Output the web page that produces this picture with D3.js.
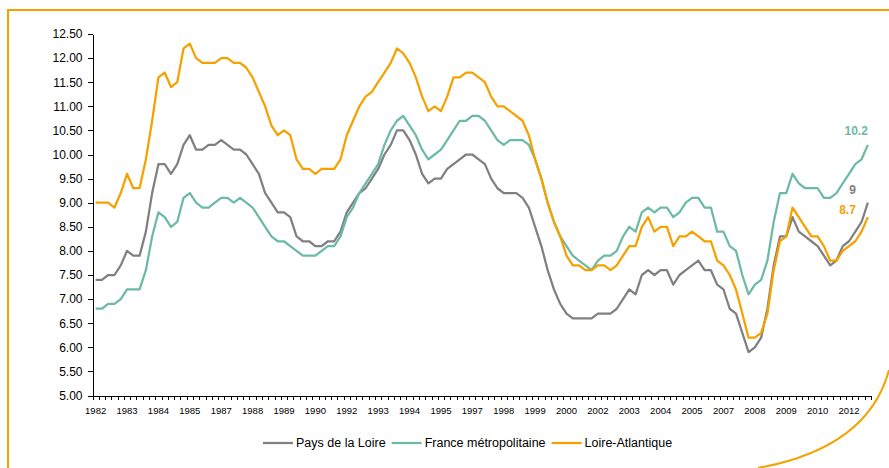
<!DOCTYPE html>
<head>
    <meta charset="utf-8">
    <title>Taux de chômage</title>
    <style>
        body { margin: 0; background: #fff; }
        text { font-family: "Liberation Sans", Arial, sans-serif; }
        .axis path, .axis line { stroke: #000; shape-rendering: crispEdges; }
        .axis text { fill: #000; }
    </style>
</head>

<body>

<svg width="889" height="468"></svg>

<script src="https://d3js.org/d3.v7.min.js"></script>

<script>

    // quarterly series, 1982 T1 -> 2012 T4 (124 points)
    var paysDeLaLoire = [
        7.4, 7.4, 7.5, 7.5, 7.7, 8.0, 7.9, 7.9, 8.4, 9.2,
        9.8, 9.8, 9.6, 9.8, 10.2, 10.4, 10.1, 10.1, 10.2, 10.2,
        10.3, 10.2, 10.1, 10.1, 10.0, 9.8, 9.6, 9.2, 9.0, 8.8,
        8.8, 8.7, 8.3, 8.2, 8.2, 8.1, 8.1, 8.2, 8.2, 8.4,
        8.8, 9.0, 9.2, 9.3, 9.5, 9.7, 10.0, 10.2, 10.5, 10.5,
        10.3, 10.0, 9.6, 9.4, 9.5, 9.5, 9.7, 9.8, 9.9, 10.0,
        10.0, 9.9, 9.8, 9.5, 9.3, 9.2, 9.2, 9.2, 9.1, 8.9,
        8.5, 8.1, 7.6, 7.2, 6.9, 6.7, 6.6, 6.6, 6.6, 6.6,
        6.7, 6.7, 6.7, 6.8, 7.0, 7.2, 7.1, 7.5, 7.6, 7.5,
        7.6, 7.6, 7.3, 7.5, 7.6, 7.7, 7.8, 7.6, 7.6, 7.3,
        7.2, 6.8, 6.7, 6.3, 5.9, 6.0, 6.2, 6.8, 7.7, 8.3,
        8.3, 8.7, 8.4, 8.3, 8.2, 8.1, 7.9, 7.7, 7.8, 8.1,
        8.2, 8.4, 8.6, 9.0
    ];

    var franceMetro = [
        6.8, 6.8, 6.9, 6.9, 7.0, 7.2, 7.2, 7.2, 7.6, 8.3,
        8.8, 8.7, 8.5, 8.6, 9.1, 9.2, 9.0, 8.9, 8.9, 9.0,
        9.1, 9.1, 9.0, 9.1, 9.0, 8.9, 8.7, 8.5, 8.3, 8.2,
        8.2, 8.1, 8.0, 7.9, 7.9, 7.9, 8.0, 8.1, 8.1, 8.3,
        8.7, 8.9, 9.2, 9.4, 9.6, 9.8, 10.2, 10.5, 10.7, 10.8,
        10.6, 10.4, 10.1, 9.9, 10.0, 10.1, 10.3, 10.5, 10.7, 10.7,
        10.8, 10.8, 10.7, 10.5, 10.3, 10.2, 10.3, 10.3, 10.3, 10.2,
        9.9, 9.5, 9.0, 8.6, 8.3, 8.1, 7.9, 7.8, 7.7, 7.6,
        7.8, 7.9, 7.9, 8.0, 8.3, 8.5, 8.4, 8.8, 8.9, 8.8,
        8.9, 8.9, 8.7, 8.8, 9.0, 9.1, 9.1, 8.9, 8.9, 8.4,
        8.4, 8.1, 8.0, 7.5, 7.1, 7.3, 7.4, 7.8, 8.6, 9.2,
        9.2, 9.6, 9.4, 9.3, 9.3, 9.3, 9.1, 9.1, 9.2, 9.4,
        9.6, 9.8, 9.9, 10.2
    ];

    var loireAtlantique = [
        9.0, 9.0, 9.0, 8.9, 9.2, 9.6, 9.3, 9.3, 9.9, 10.7,
        11.6, 11.7, 11.4, 11.5, 12.2, 12.3, 12.0, 11.9, 11.9, 11.9,
        12.0, 12.0, 11.9, 11.9, 11.8, 11.6, 11.3, 11.0, 10.6, 10.4,
        10.5, 10.4, 9.9, 9.7, 9.7, 9.6, 9.7, 9.7, 9.7, 9.9,
        10.4, 10.7, 11.0, 11.2, 11.3, 11.5, 11.7, 11.9, 12.2, 12.1,
        11.9, 11.6, 11.2, 10.9, 11.0, 10.9, 11.2, 11.6, 11.6, 11.7,
        11.7, 11.6, 11.5, 11.2, 11.0, 11.0, 10.9, 10.8, 10.7, 10.4,
        9.9, 9.5, 9.0, 8.6, 8.3, 7.9, 7.7, 7.7, 7.6, 7.6,
        7.7, 7.7, 7.6, 7.7, 7.9, 8.1, 8.1, 8.5, 8.7, 8.4,
        8.5, 8.5, 8.1, 8.3, 8.3, 8.4, 8.3, 8.2, 8.2, 7.8,
        7.7, 7.5, 7.2, 6.7, 6.2, 6.2, 6.3, 6.7, 7.6, 8.2,
        8.3, 8.9, 8.7, 8.5, 8.3, 8.3, 8.1, 7.8, 7.8, 8.0,
        8.1, 8.2, 8.4, 8.7
    ];

    // one category per quarter, the axis labels every 5th one
    var periodes = d3.range(paysDeLaLoire.length).map(function(i) { return 1982 + Math.floor(i / 4); });
    var yTicks = [5, 5.5, 6, 6.5, 7, 7.5, 8, 8.5, 9, 9.5, 10, 10.5, 11, 11.5, 12, 12.5];

    var series = [
        {name: "Pays de la Loire", values: paysDeLaLoire, color: "#808080", label: "9"},
        {name: "France métropolitaine", values: franceMetro, color: "#6CBAA6", label: "10.2"},
        {name: "Loire-Atlantique", values: loireAtlantique, color: "#F5A100", label: "8.7"}
    ];

    var svg = d3.select("svg");
    var orange = "#F5A100";

    // decorative frame
    svg.append("path")
        .attr("d", "M7,10H889M8,10V468")
        .attr("fill", "none")
        .attr("stroke", orange)
        .attr("stroke-width", 2);
    svg.append("path")
        .attr("d", "M758,468Q868,448 889,370")
        .attr("fill", "none")
        .attr("stroke", orange)
        .attr("stroke-width", 2);

    var x = d3.scaleBand().domain(d3.range(periodes.length)).range([92.5, 871]),
        xEdge = d3.scaleLinear().domain([0, periodes.length]).range([92.5, 871]),
        y = d3.scaleLinear().domain([5, 12.5]).range([395.5, 34]);

    // y axis
    svg.append("g")
        .attr("class", "axis")
        .attr("transform", "translate(92.5,0)")
        .call(d3.axisLeft(y).tickValues(yTicks).tickFormat(d3.format(".2f")).tickSize(5).tickPadding(5).tickSizeOuter(0))
        .selectAll("text").style("font-size", "12px");

    // x axis : tick marks between quarters
    svg.append("g")
        .attr("class", "axis")
        .attr("transform", "translate(0,395.5)")
        .call(d3.axisBottom(xEdge).tickValues(d3.range(periodes.length + 1)).tickFormat("").tickSize(4).tickSizeOuter(0));

    // x labels (every 5 quarters)
    var xLab = svg.append("g")
        .attr("class", "axis")
        .attr("transform", "translate(0,395.5)")
        .call(d3.axisBottom(x)
            .tickValues(x.domain().filter(function(i) { return i % 5 === 0; }))
            .tickFormat(function(i) { return periodes[i]; })
            .tickSize(0).tickPadding(12));
    xLab.select(".domain").remove();
    xLab.selectAll("text").style("font-size", "9.5px");

    var line = d3.line()
        .x(function(d, i) { return x(i) + x.bandwidth() / 2; })
        .y(function(d) { return y(d); });

    svg.selectAll(".serie")
        .data(series)
        .enter().append("path")
        .attr("class", "serie")
        .attr("fill", "none")
        .attr("stroke", function(d) { return d.color; })
        .attr("stroke-width", 2.25)
        .attr("stroke-linejoin", "round")
        .attr("d", function(d) { return line(d.values); });

    // end labels
    var last = periodes.length - 1;
    var offsets = {"Pays de la Loire": [-12, -9], "France métropolitaine": [0, -10], "Loire-Atlantique": [-12, -3]};
    svg.selectAll(".endlab")
        .data(series)
        .enter().append("text")
        .attr("class", "endlab")
        .attr("x", function(d) { return x(last) + x.bandwidth() / 2 + offsets[d.name][0]; })
        .attr("y", function(d) { return y(d.values[last]) + offsets[d.name][1]; })
        .attr("text-anchor", "end")
        .style("font-size", "12px")
        .style("font-weight", "bold")
        .style("fill", function(d) { return d.color; })
        .text(function(d) { return d.label; });

    // legend
    var legend = svg.append("g").attr("transform", "translate(263,443)");
    var lx = 0;
    series.forEach(function(s) {
        legend.append("line")
            .attr("x1", lx).attr("x2", lx + 30)
            .attr("stroke", s.color).attr("stroke-width", 2.25);
        var t = legend.append("text")
            .attr("x", lx + 33)
            .attr("dy", "0.35em")
            .style("font-size", "12.5px")
            .text(s.name);
        lx += 33 + t.node().getComputedTextLength() + 6;
    });

</script>

</body>
